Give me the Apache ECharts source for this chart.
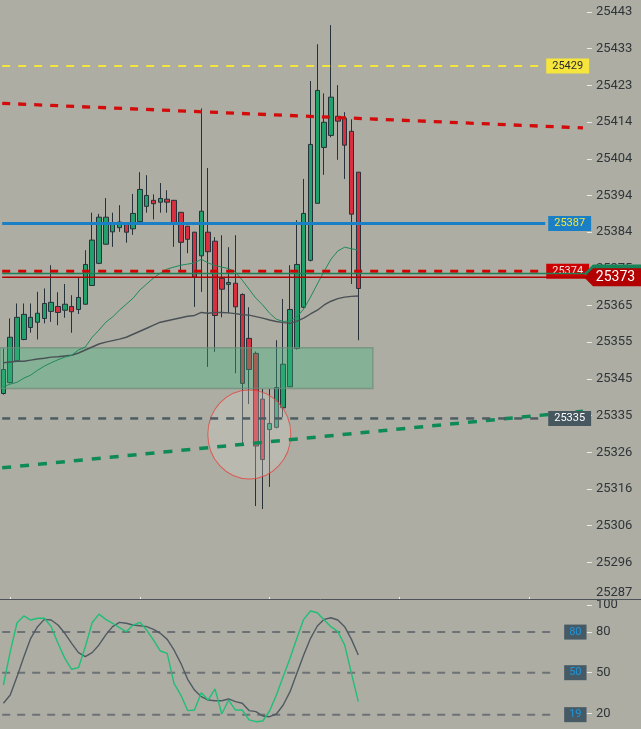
<!DOCTYPE html>
<html><head><meta charset="utf-8">
<script src="https://cdn.jsdelivr.net/npm/echarts@6/dist/echarts.min.js"></script>
<style>html,body{margin:0;padding:0;background:#adada3;}#c{width:641px;height:729px;}</style>
</head><body><div id="c"></div>
<script>
// ---- data ----
const categories = ["0","1","2","3","4","5","6","7","8","9","10","11","12","13","14","15","16","17","18","19","20","21","22","23","24","25","26","27","28","29","30","31","32","33","34","35","36","37","38","39","40","41","42","43","44","45","46","47","48","49","50","51","52","53","54","55","56","57","58","59","60","61","62","63","64","65","66","67","68","69","70","71","72","73","74","75","76","77","78","79","80","81","82","83","84","85"];
// [open, close, low, high]
const candles = [
[25341.3,25347.7,25341.0,25353.3],[25344.2,25356.3,25344.0,25361.3],[25350.0,25361.6,25349.8,25365.3],
[25355.7,25362.4,25355.5,25365.3],[25358.9,25361.6,25357.5,25365.3],[25360.3,25362.7,25355.7,25368.4],
[25361.3,25365.3,25360.0,25369.3],[25363.2,25365.6,25360.4,25375.5],[25364.5,25362.9,25359.5,25368.3],
[25363.5,25365.1,25361.5,25370.5],[25364.5,25363.1,25357.5,25367.5],[25363.7,25366.9,25362.5,25372.3],
[25365.1,25375.7,25365.0,25379.5],[25370.1,25382.2,25370.0,25389.5],[25376.0,25388.3,25375.8,25389.2],
[25381.1,25388.3,25381.0,25393.4],[25384.4,25386.8,25380.4,25389.5],[25385.5,25387.0,25384.4,25391.5],
[25386.5,25384.3,25381.5,25387.0],[25385.2,25389.3,25383.6,25394.5],[25387.1,25395.7,25387.0,25400.3],
[25391.2,25394.1,25389.5,25399.5],[25392.8,25391.9,25387.7,25394.4],[25392.3,25393.3,25389.5,25397.4],
[25393.1,25392.3,25389.5,25395.5],[25392.8,25386.7,25380.4,25392.9],[25389.6,25381.6,25373.7,25389.7],
[25385.9,25382.4,25378.7,25386.0],[25384.3,25372.3,25364.4,25384.4],[25378.0,25389.9,25368.4,25417.3],
[25384.3,25379.1,25348.4,25401.4],[25381.9,25362.1,25352.4,25383.0],[25372.0,25369.1,25361.6,25383.5],
[25370.4,25370.9,25362.7,25380.3],[25370.7,25364.4,25346.7,25383.5],[25367.7,25344.0,25327.3,25368.0],
[25356.0,25347.7,25338.5,25364.3],[25352.0,25327.3,25311.3,25352.5],[25339.8,25323.7,25310.5,25342.5],
[25331.7,25333.3,25316.4,25342.5],[25332.3,25342.9,25332.0,25355.5],[25337.5,25349.1,25335.0,25366.5],
[25343.1,25363.7,25343.0,25375.5],[25353.3,25375.7,25353.0,25387.5],[25364.3,25389.3,25364.0,25398.5],
[25376.8,25407.7,25376.5,25424.6],[25392.0,25422.1,25392.0,25434.4],[25406.9,25413.6,25399.6,25421.3],
[25410.1,25420.3,25409.6,25439.5],[25415.2,25413.9,25403.6,25423.5],[25414.7,25407.5,25398.5,25416.3],
[25411.2,25389.1,25370.5,25414.4],[25400.3,25369.3,25355.5,25400.3]
];
const maFast = [25343.1,25343.8,25344.3,25345.4,25346.2,25347.5,25348.6,25349.5,25350.3,25351.0,25351.5,25352.9,25353.7,25356.3,25358.2,25360.3,25361.7,25363.5,25365.1,25366.7,25368.9,25370.5,25372.1,25373.4,25374.5,25375.0,25375.5,25375.8,25376.1,25377.1,25376.1,25375.4,25375.0,25374.6,25373.7,25371.5,25369.1,25366.7,25364.9,25362.7,25361.1,25360.5,25360.6,25361.7,25363.8,25367.0,25370.5,25373.9,25377.1,25379.3,25380.3,25379.9,25379.5];
const maSlow = [25349.5,25349.7,25349.9,25349.9,25350.2,25350.5,25350.7,25351.0,25351.1,25351.3,25351.5,25352.1,25352.9,25353.7,25354.5,25355.0,25355.4,25355.8,25356.3,25357.1,25357.9,25358.7,25359.5,25360.3,25360.7,25361.1,25361.5,25361.9,25362.1,25362.9,25362.7,25362.9,25362.9,25362.8,25362.6,25362.3,25362.2,25361.8,25361.4,25360.9,25360.5,25360.2,25360.0,25360.6,25361.4,25362.5,25363.5,25364.9,25365.9,25366.6,25367.0,25367.2,25367.3];
const stochK = [40.9,65.5,86.9,91.9,88.9,90.2,90.2,84.0,71.7,60.6,52.5,53.7,69.2,86.9,93.3,89.4,86.5,83.3,80.3,85.2,87.2,81.5,74.1,66.0,64.3,42.1,33.5,22.0,22.4,35.2,29.8,38.0,19.5,29.8,22.4,22.4,15.1,13.8,14.3,21.7,33.5,47.1,60.6,75.4,89.4,95.6,94.3,88.9,84.0,80.3,70.5,49.5,28.6];
const stochD = [27.4,33.5,47.1,61.8,75.4,84.0,89.4,88.9,85.2,79.1,71.7,64.8,61.8,64.8,70.5,77.9,84.0,87.2,86.5,85.2,84.7,84.0,82.0,79.1,74.6,66.8,56.9,45.1,37.2,32.3,29.8,29.3,29.3,30.6,28.6,27.4,22.0,21.2,18.0,17.5,19.5,26.1,36.0,49.5,63.1,75.4,84.5,89.4,90.6,88.9,84.0,74.6,63.1];
const priceTicks = [25443.00,25433.22,25423.44,25413.66,25403.88,25394.10,25384.32,25374.54,25364.76,25354.98,25345.20,25335.42,25325.64,25315.86,25306.08,25296.30,25286.52];
const oscTicks = [20,50,80,100];
const priceRange = [25286.52, 25446.2];
const oscRange = [8.4, 103.7];
// annotations: [index, price]
const levelYellow = [[-0.18,25428.6],[79.1,25428.6]];
const levelBlue = [[-0.18,25386.65],[79.39,25386.65]];
const levelRedDash = [[-0.18,25373.9],[79.1,25373.9]];
const levelGrey = [[-0.18,25334.65],[79.39,25334.65]];
const trendRed = [[-0.18,25418.65],[84.93,25412.1]];
const trendGreen = [[-0.18,25321.5],[84.93,25336.6]];
const lineGreenThin = [[-0.18,25373.3],[85.5,25373.3]];
const lineLast = [[-0.18,25372.3],[85.5,25372.3]];
const zone = [[-0.5,25353.5],[54.13,25342.65]];
const circle = [[36.03,25330.4]];
const oscLevels = [80,50,19];
const levelLabels = {yellow:'25429', blue:'25387', red:'25374', grey:'25335', last:'25373'};

// ---- chart ----
const FONT = 'Roboto, sans-serif';
const chart = echarts.init(document.getElementById('c'));
const gridL = -2.2, gridR = 54.1;

function lvlSeries(data, style, z, label, lblStyle){
  const s = {type:'line', xAxisIndex:1, yAxisIndex:0, data:data, symbol:'none', silent:true, z:z,
    lineStyle:style, clip:false};
  if(label){
    s.endLabel = Object.assign({show:true, formatter:label, fontSize:11, fontFamily:FONT,
      padding:[2,6,1,6], lineHeight:12, distance:3}, lblStyle);
  }
  return s;
}
const tagPath = 'path://M0,9L9,0L57,0L57,18L9,18Z';

const series = [
  {type:'candlestick', xAxisIndex:0, yAxisIndex:0, data:candles, barWidth:5, z:2, silent:true,
   itemStyle:{color:'#22a06b', color0:'#d8303f', borderColor:'#26313a', borderColor0:'#26313a', borderWidth:1}},
  // zone
  {type:'line', xAxisIndex:1, yAxisIndex:0, data:[], silent:true, z:3,
   markArea:{silent:true, z:3, itemStyle:{color:'rgba(60,185,130,0.35)', borderColor:'rgba(110,140,120,0.7)', borderWidth:1.5},
     data:[[{coord:zone[0]},{coord:zone[1]}]]}},
  {type:'line', xAxisIndex:0, yAxisIndex:0, data:maSlow, symbol:'none', silent:true, z:4,
   lineStyle:{color:'#4a5156', width:1.4}},
  {type:'line', xAxisIndex:0, yAxisIndex:0, data:maFast, symbol:'none', silent:true, z:4,
   lineStyle:{color:'#1f8a5c', width:1}},
  {type:'scatter', xAxisIndex:1, yAxisIndex:0, data:circle, symbol:'circle', symbolSize:[83,89], silent:true, z:4,
   itemStyle:{color:'rgba(212,212,206,0.38)', borderColor:'#e5453d', borderWidth:1}},
  lvlSeries(trendGreen, {color:'#0d8a58', width:3.5, type:[9,9]}, 5),
  lvlSeries(trendRed, {color:'#d40b0b', width:3.3, type:[8,8]}, 5),
  lvlSeries(levelYellow, {color:'#f5e53a', width:2, type:[8,8]}, 5, levelLabels.yellow, {backgroundColor:'#f6e53c', color:'#2a2a2a'}),
  lvlSeries(levelBlue, {color:'#1a7fc4', width:3}, 5, levelLabels.blue, {backgroundColor:'#1a7fc4', color:'#f5e642'}),
  lvlSeries(levelRedDash, {color:'#d40000', width:3, type:[8,8]}, 5, levelLabels.red, {backgroundColor:'#cc0000', color:'#f6e4e4'}),
  lvlSeries(levelGrey, {color:'#4e5c64', width:2.5, type:[8,8]}, 6, levelLabels.grey, {backgroundColor:'#46575f', color:'#ffffff'}),
  Object.assign(lvlSeries(lineGreenThin, {color:'#1d8256', width:1.5}, 6), {
    markPoint:{z:6, silent:true, symbol:tagPath, symbolSize:[57,18], symbolOffset:[25.6,0],
      itemStyle:{color:'#17845a'}, label:{show:false}, data:[{coord:lineGreenThin[1]}]}}),
  Object.assign(lvlSeries(lineLast, {color:'#b00000', width:1.5}, 6), {
    markPoint:{z:7, silent:true, symbol:tagPath, symbolSize:[57,18], symbolOffset:[25.6,0],
      itemStyle:{color:'#b30000'},
      label:{show:true, position:'inside', formatter:levelLabels.last, color:'#ffffff', fontSize:14, fontFamily:FONT, offset:[3,0]},
      data:[{coord:lineLast[1]}]}}),
  // oscillator
  {type:'line', xAxisIndex:2, yAxisIndex:1, data:stochD, symbol:'none', silent:true, z:4,
   lineStyle:{color:'#4f5a62', width:1.4}},
  {type:'line', xAxisIndex:2, yAxisIndex:1, data:stochK, symbol:'none', silent:true, z:4,
   lineStyle:{color:'#1fbf78', width:1.4}}
];
oscLevels.forEach(function(v){
  series.push({type:'line', xAxisIndex:3, yAxisIndex:1, data:[[-0.18,v],[80.85,v]], symbol:'none', silent:true, z:3,
    lineStyle:{color:'#6c7276', width:2, type:[8,7]},
    endLabel:{show:true, formatter:String(v), fontSize:11, fontFamily:FONT, color:'#1e95dc', backgroundColor:'#465a66',
      padding:[2,5,1,5], lineHeight:12, distance:9}});
});

const axisLabelStyle = {color:'#2f3539', fontSize:13, fontFamily:FONT};
chart.setOption({
  animation:false,
  backgroundColor:'#adada3',
  grid:[
    {left:gridL, right:gridR, top:0, height:599},
    {left:gridL, right:gridR, top:600, height:129}
  ],
  xAxis:[
    {type:'category', gridIndex:0, data:categories, boundaryGap:true,
     axisLine:{show:false, onZero:false}, axisLabel:{show:false}, splitLine:{show:false},
     axisTick:{show:true, inside:true, length:2, alignWithLabel:true, lineStyle:{color:'#f2f2f2', width:1},
       interval:function(i){return i % 19 === 1;}}},
    {type:'value', gridIndex:0, position:'top', min:-0.5, max:85.5, show:false, axisLine:{onZero:false}},
    {type:'category', gridIndex:1, data:categories, boundaryGap:true, show:false, axisLine:{onZero:false}},
    {type:'value', gridIndex:1, position:'top', min:-0.5, max:85.5, show:false, axisLine:{onZero:false}}
  ],
  yAxis:[
    {type:'value', gridIndex:0, position:'right', min:priceRange[0], max:priceRange[1], scale:true,
     axisLine:{show:false, onZero:false}, splitLine:{show:false},
     axisTick:{show:true, length:5, customValues:priceTicks, lineStyle:{color:'#ececec', width:1}},
     axisLabel:Object.assign({customValues:priceTicks, margin:9,
       formatter:function(v){ const t = String(Math.round(v)); return v <= priceRange[0] + 0.01 ? '{low|' + t + '}' : t; },
       rich:{low:{padding:[0,0,12,0], color:'#2f3539', fontSize:13, fontFamily:FONT}}}, axisLabelStyle)},
    {type:'value', gridIndex:1, position:'right', min:oscRange[0], max:oscRange[1],
     axisLine:{show:false, onZero:false}, splitLine:{show:false},
     axisTick:{show:true, length:5, customValues:oscTicks, lineStyle:{color:'#ececec', width:1}},
     axisLabel:Object.assign({customValues:oscTicks, margin:9}, axisLabelStyle)}
  ],
  graphic:[{type:'line', silent:true, z:10, shape:{x1:0, y1:599.5, x2:641, y2:599.5}, style:{stroke:'#4b5258', lineWidth:1}}],
  series:series
});
</script></body></html>
